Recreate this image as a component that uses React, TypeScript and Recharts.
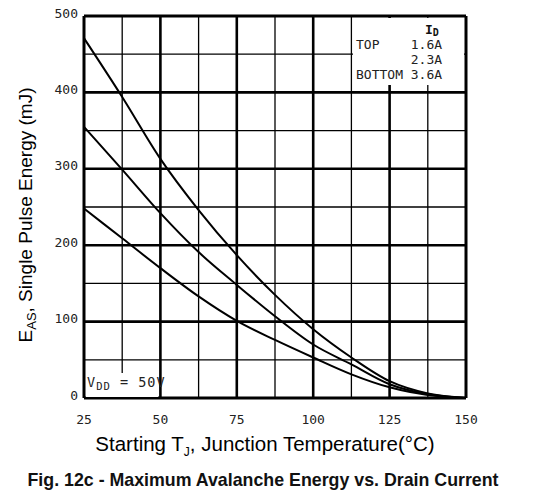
import React from "react";
import { LineChart, Line, XAxis, YAxis, ReferenceLine } from "recharts";

// starting junction temperature (°C)
const temps = [25, 37.5, 50, 62.5, 75, 87.5, 100, 112.5, 125, 137.5, 150];

// E_AS (mJ) per drain current
const top16 = [471, 394, 313, 246, 187, 135, 90, 53, 22, 6, 0];
const mid23 = [355, 299, 242, 191, 148, 107, 70, 44, 18, 5, 0];
const bot36 = [248, 209, 170, 133, 101, 76, 53, 31, 14, 4, 0];

const xTicks = [25, 50, 75, 100, 125, 150];
const yTicks = [0, 100, 200, 300, 400, 500];

const xMajor = [50, 75, 100, 125];
const xMinor = [37.5, 62.5, 87.5, 112.5, 137.5];
const yMajor = [100, 200, 300, 400];
const yMinor = [50, 150, 250, 350, 450];

const data = temps.map((t, i) => ({
  t,
  a: top16[i],
  b: mid23[i],
  c: bot36[i],
}));

const mono = "'DejaVu Sans Mono', 'Liberation Mono', monospace";
const sans = "'Liberation Sans', Arial, sans-serif";

const YTick = (props: any) => {
  const { x, y, payload } = props;
  return (
    <text
      x={x}
      y={y - 3}
      dy="0.35em"
      textAnchor="end"
      fontFamily={mono}
      fontSize={13}
      fill="#222"
    >
      {payload.value}
    </text>
  );
};

const XTick = (props: any) => {
  const { x, y, payload } = props;
  return (
    <text
      x={x}
      y={y}
      dy="0.71em"
      textAnchor="middle"
      fontFamily={mono}
      fontSize={13}
      fill="#222"
    >
      {payload.value}
    </text>
  );
};

export default function App() {
  return (
    <div
      style={{
        position: "absolute",
        left: 0,
        top: 0,
        width: 535,
        height: 501,
        background: "#fff",
      }}
    >
      <LineChart
        width={535}
        height={501}
        data={data}
        margin={{ top: 16, right: 69, bottom: 73, left: 44 }}
      >
        <XAxis
          dataKey="t"
          type="number"
          domain={[25, 150]}
          ticks={xTicks}
          height={30}
          axisLine={false}
          tickLine={false}
          tickSize={0}
          tickMargin={17}
          tick={<XTick />}
        />
        <YAxis
          type="number"
          domain={[0, 500]}
          ticks={yTicks}
          width={40}
          axisLine={false}
          tickLine={false}
          tickSize={0}
          tickMargin={6}
          tick={<YTick />}
        />

        {xMinor.map((v) => (
          <ReferenceLine key={"xm" + v} x={v} stroke="#000" strokeWidth={1.3} />
        ))}
        {yMinor.map((v) => (
          <ReferenceLine key={"ym" + v} y={v} stroke="#000" strokeWidth={1.3} />
        ))}
        {xMajor.map((v) => (
          <ReferenceLine key={"xM" + v} x={v} stroke="#000" strokeWidth={2.6} />
        ))}
        {yMajor.map((v) => (
          <ReferenceLine key={"yM" + v} y={v} stroke="#000" strokeWidth={2.6} />
        ))}

        <ReferenceLine x={25} stroke="#000" strokeWidth={3} />
        <ReferenceLine x={150} stroke="#000" strokeWidth={3} />
        <ReferenceLine y={0} stroke="#000" strokeWidth={3} />
        <ReferenceLine y={500} stroke="#000" strokeWidth={3} />

        <Line
          dataKey="a"
          type="monotone"
          stroke="#000"
          strokeWidth={2}
          dot={false}
          isAnimationActive={false}
        />
        <Line
          dataKey="b"
          type="monotone"
          stroke="#000"
          strokeWidth={2}
          dot={false}
          isAnimationActive={false}
        />
        <Line
          dataKey="c"
          type="monotone"
          stroke="#000"
          strokeWidth={2}
          dot={false}
          isAnimationActive={false}
        />
      </LineChart>

      {/* white patches behind the notes, inside the frame */}
      <div
        style={{
          position: "absolute",
          left: 353,
          top: 17.5,
          width: 111,
          height: 67.5,
          background: "#fff",
        }}
      />
      <div
        style={{
          position: "absolute",
          left: 85.5,
          top: 373,
          width: 72,
          height: 23.5,
          background: "#fff",
        }}
      />

      {/* I_D legend */}
      <div
        style={{
          position: "absolute",
          left: 425,
          top: 23,
          fontFamily: mono,
          fontSize: 13,
          lineHeight: "13px",
          fontWeight: "bold",
          color: "#111",
        }}
      >
        I<span style={{ fontSize: 10, position: "relative", top: 2 }}>D</span>
      </div>
      <div
        style={{
          position: "absolute",
          left: 356,
          top: 37,
          fontFamily: mono,
          fontSize: 13,
          lineHeight: "15px",
          color: "#222",
          whiteSpace: "pre",
        }}
      >
        {"TOP    1.6A\n       2.3A\nBOTTOM 3.6A"}
      </div>

      {/* V_DD note */}
      <div
        style={{
          position: "absolute",
          left: 87,
          top: 374,
          fontFamily: mono,
          fontSize: 13.5,
          color: "#222",
          whiteSpace: "pre",
          letterSpacing: 1,
        }}
      >
        V<span style={{ fontSize: 10.5, position: "relative", top: 3 }}>DD</span>
        {" = 50V"}
      </div>

      {/* y axis title */}
      <div
        style={{
          position: "absolute",
          left: 26,
          top: 215,
          transform: "translate(-50%, -50%) rotate(-90deg)",
          fontFamily: sans,
          fontSize: 19,
          color: "#000",
          whiteSpace: "nowrap",
        }}
      >
        E<span style={{ fontSize: 13, position: "relative", top: 4 }}>AS</span>,
        Single Pulse Energy (mJ)
      </div>

      {/* x axis title */}
      <div
        style={{
          position: "absolute",
          left: 265,
          top: 444,
          transform: "translate(-50%, -50%)",
          fontFamily: sans,
          fontSize: 20.5,
          color: "#000",
          whiteSpace: "nowrap",
        }}
      >
        Starting T
        <span style={{ fontSize: 12, position: "relative", top: 5 }}>J</span>,
        Junction Temperature(°C)
      </div>

      {/* caption */}
      <div
        style={{
          position: "absolute",
          left: 263,
          top: 480,
          transform: "translate(-50%, -50%)",
          fontFamily: sans,
          fontSize: 17.8,
          fontWeight: "bold",
          color: "#111",
          whiteSpace: "nowrap",
        }}
      >
        Fig. 12c - Maximum Avalanche Energy vs. Drain Current
      </div>
    </div>
  );
}
